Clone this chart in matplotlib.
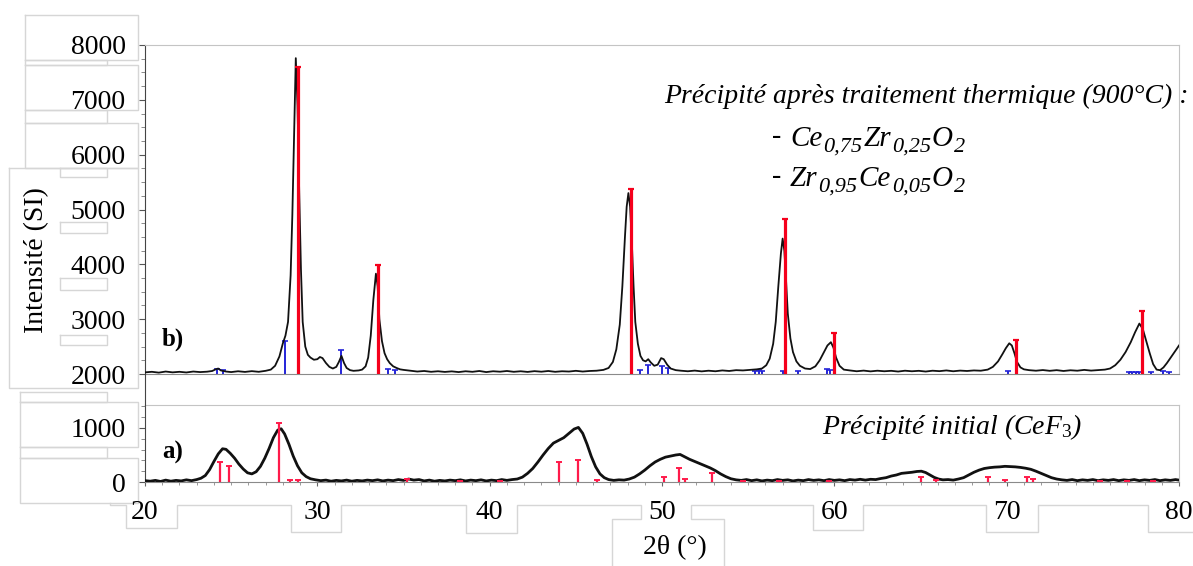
import matplotlib
matplotlib.use('Agg')
import matplotlib.pyplot as plt
from matplotlib.lines import Line2D
from matplotlib.ticker import MultipleLocator

# ============================================================================
# data
# ============================================================================

# b) precipitate after heat treatment (900 C)
two_theta_b = [20.0, 20.4, 20.8, 21.2, 21.6, 22.0, 22.4, 22.8, 23.2, 23.6, 23.9, 24.1, 24.25, 24.4, 24.7,
               25.0, 25.4, 25.8, 26.2, 26.6, 27.0, 27.3, 27.55, 27.8, 28.0, 28.15, 28.3, 28.45, 28.55, 28.65,
               28.75, 28.85, 28.95, 29.05, 29.15, 29.3, 29.45, 29.6, 29.8, 30.0, 30.15, 30.3, 30.5, 30.7,
               30.9, 31.1, 31.25, 31.4, 31.55, 31.7, 31.9, 32.1, 32.4, 32.6, 32.8, 32.95, 33.1, 33.25, 33.4,
               33.5, 33.6, 33.75, 33.9, 34.05, 34.2, 34.4, 34.6, 34.8, 35.0, 35.4, 35.8, 36.2, 36.6, 37.0,
               37.4, 37.8, 38.2, 38.6, 39.0, 39.4, 39.8, 40.2, 40.6, 41.0, 41.4, 41.8, 42.2, 42.6, 43.0,
               43.4, 43.8, 44.2, 44.6, 45.0, 45.4, 45.8, 46.2, 46.6, 46.9, 47.15, 47.35, 47.55, 47.7, 47.85,
               47.95, 48.05, 48.15, 48.25, 48.35, 48.45, 48.6, 48.75, 48.9, 49.05, 49.2, 49.35, 49.55, 49.75,
               49.95, 50.1, 50.3, 50.5, 50.8, 51.1, 51.5, 51.9, 52.3, 52.7, 53.1, 53.5, 53.9, 54.3, 54.7,
               55.1, 55.5, 55.8, 56.05, 56.25, 56.45, 56.6, 56.75, 56.9, 57.0, 57.1, 57.2, 57.3, 57.45, 57.6,
               57.8, 58.0, 58.3, 58.6, 58.9, 59.15, 59.4, 59.6, 59.8, 59.95, 60.1, 60.3, 60.55, 60.9, 61.3,
               61.7, 62.1, 62.5, 62.9, 63.3, 63.7, 64.1, 64.5, 64.9, 65.3, 65.7, 66.1, 66.5, 66.9, 67.3,
               67.7, 68.1, 68.5, 68.9, 69.2, 69.5, 69.75, 69.95, 70.15, 70.3, 70.45, 70.6, 70.8, 71.0, 71.3,
               71.7, 72.1, 72.5, 72.9, 73.3, 73.7, 74.1, 74.5, 74.9, 75.3, 75.7, 76.0, 76.3, 76.6, 76.9,
               77.2, 77.45, 77.7, 77.9, 78.1, 78.3, 78.5, 78.7, 78.9, 79.1, 79.3, 79.5, 79.7, 79.85, 80.0]
intensity_b = [2030, 2040, 2025, 2045, 2030, 2040, 2028, 2045, 2035, 2042, 2055, 2085, 2100, 2065, 2045,
               2035, 2050, 2038, 2052, 2040, 2058, 2080, 2150, 2320, 2560, 2700, 2950, 3800, 4900, 6300,
               7760, 6900, 5300, 3900, 2950, 2500, 2350, 2300, 2260, 2270, 2310, 2290, 2200, 2130,
               2100, 2130, 2220, 2330, 2200, 2110, 2070, 2058, 2065, 2080, 2140, 2300, 2700, 3350, 3830,
               3600, 3000, 2600, 2380, 2270, 2200, 2140, 2110, 2085, 2075, 2060, 2045, 2055, 2040, 2050,
               2038, 2048, 2035, 2050, 2040, 2055, 2035, 2050, 2042, 2055, 2040, 2050, 2038, 2052, 2042,
               2055, 2040, 2050, 2045, 2058, 2045, 2055, 2060, 2075, 2110, 2220, 2450, 2900, 3600, 4500,
               5050, 5300, 5050, 4400, 3600, 2950, 2550, 2330, 2250, 2230, 2270, 2210, 2150, 2170,
               2290, 2270, 2170, 2100, 2070, 2060, 2050, 2062, 2048, 2060, 2050, 2065, 2055, 2070, 2065,
               2075, 2085, 2100, 2160, 2280, 2550, 2950, 3600, 4200, 4470, 4250, 3700, 3100, 2650, 2400,
               2230, 2150, 2100, 2090, 2140, 2250, 2400, 2520, 2580, 2480, 2300, 2150, 2080, 2065, 2050,
               2062, 2048, 2060, 2050, 2058, 2045, 2060, 2050, 2058, 2045, 2060, 2052, 2065, 2050, 2062,
               2055, 2065, 2060, 2080, 2130, 2230, 2360, 2470, 2560, 2520, 2380, 2220, 2120, 2085, 2070,
               2060, 2072, 2058, 2070, 2055, 2068, 2060, 2075, 2062, 2070, 2080, 2100, 2160, 2260, 2400,
               2580, 2760, 2920, 2820, 2600, 2380, 2180, 2080, 2070, 2120, 2200, 2290, 2380, 2450, 2520]

# reference lines, Ce0,75Zr0,25O2 (red) and Zr0,95Ce0,05O2 (blue)
ce75_pos = [28.9, 33.5, 48.2, 57.15, 60.0, 70.55, 77.85]
ce75_int = [7590, 3990, 5380, 4820, 2740, 2615, 3155]
zr95_pos = [24.2, 24.5, 28.1, 31.4, 34.1, 34.5, 48.75, 49.2, 50.0, 50.35, 55.4, 55.6, 55.8,
            57.05, 57.9, 59.6, 59.75, 70.05, 77.1, 77.3, 77.5, 77.7, 78.4, 79.1, 79.4]
zr95_int = [2100, 2080, 2610, 2430, 2100, 2070, 2070, 2160, 2150, 2110, 2060, 2070, 2060,
            2050, 2060, 2090, 2080, 2050, 2040, 2040, 2040, 2040, 2040, 2050, 2040]

# a) initial precipitate (CeF3)
two_theta_a = [20.0, 20.3, 20.6, 20.9, 21.2, 21.5, 21.8, 22.1, 22.4, 22.7, 23.0, 23.25, 23.5, 23.75, 24.0,
               24.25, 24.5, 24.7, 24.95, 25.2, 25.45, 25.7, 25.95, 26.2, 26.45, 26.7, 26.95, 27.2, 27.45,
               27.7, 27.9, 28.1, 28.35, 28.6, 28.85, 29.1, 29.35, 29.6, 29.9, 30.2, 30.5, 30.8, 31.1, 31.4,
               31.7, 32.0, 32.3, 32.6, 32.9, 33.2, 33.5, 33.8, 34.1, 34.4, 34.7, 35.0, 35.3, 35.6, 35.9,
               36.2, 36.5, 36.8, 37.1, 37.4, 37.7, 38.0, 38.3, 38.6, 38.9, 39.2, 39.5, 39.8, 40.1, 40.4,
               40.7, 41.0, 41.3, 41.6, 41.9, 42.2, 42.5, 42.8, 43.1, 43.4, 43.7, 44.0, 44.3, 44.6, 44.9,
               45.15, 45.4, 45.65, 45.9, 46.15, 46.4, 46.65, 46.9, 47.2, 47.5, 47.8, 48.1, 48.4, 48.7,
               49.0, 49.3, 49.6, 49.9, 50.2, 50.5, 50.8, 51.05, 51.3, 51.6, 51.9, 52.2, 52.5, 52.8, 53.1,
               53.4, 53.7, 54.0, 54.3, 54.6, 54.9, 55.2, 55.5, 55.8, 56.1, 56.4, 56.7, 57.0, 57.3, 57.6,
               57.9, 58.2, 58.5, 58.8, 59.1, 59.4, 59.7, 60.0, 60.3, 60.6, 60.9, 61.2, 61.5, 61.8, 62.1,
               62.4, 62.7, 63.0, 63.3, 63.6, 63.9, 64.2, 64.5, 64.8, 65.05, 65.3, 65.55, 65.8, 66.05, 66.3,
               66.6, 66.9, 67.2, 67.5, 67.8, 68.1, 68.4, 68.7, 69.0, 69.3, 69.6, 69.9, 70.2, 70.5, 70.8,
               71.1, 71.4, 71.7, 72.0, 72.3, 72.6, 72.9, 73.2, 73.5, 73.8, 74.1, 74.4, 74.7, 75.0, 75.3,
               75.6, 75.9, 76.2, 76.5, 76.8, 77.1, 77.4, 77.7, 78.0, 78.3, 78.6, 78.9, 79.2, 79.5, 79.8, 80.0]
intensity_a = [25, 15, 30, 10, 35, 15, 30, 20, 40, 25, 45, 70, 120, 230, 380,
               520, 615, 605, 530, 440, 330, 240, 170, 150, 190, 290, 440, 620, 820,
               960, 985, 890, 700, 480, 300, 170, 100, 60, 40, 25, 35, 15, 30, 20,
               35, 15, 30, 20, 35, 25, 40, 20, 35, 25, 45, 30, 55, 35, 45,
               20, 35, 15, 30, 20, 35, 25, 40, 20, 35, 25, 40, 20, 35, 25,
               45, 30, 45, 55, 90, 160, 250, 370, 500, 620, 720, 770, 820, 900, 980,
               1010, 900, 700, 470, 280, 150, 80, 45, 30, 40, 35, 55, 90, 150,
               220, 300, 370, 420, 460, 480, 500, 510, 470, 420, 380, 340, 300, 260, 210,
               150, 100, 60, 40, 30, 45, 25, 40, 20, 35, 25, 45, 30, 40, 20,
               35, 25, 45, 30, 40, 25, 45, 30, 40, 25, 45, 35, 50, 35, 50,
               45, 65, 80, 110, 130, 160, 170, 180, 195, 200, 175, 130, 85, 55, 40,
               45, 35, 55, 80, 130, 180, 220, 250, 265, 275, 280, 290, 285, 280, 270,
               255, 235, 200, 160, 120, 80, 55, 40, 30, 45, 25, 40, 30, 45, 25,
               40, 30, 45, 25, 40, 30, 45, 25, 40, 30, 45, 25, 40, 30, 45, 35]

# reference lines CeF3
cef3_pos = [24.35, 24.9, 27.8, 28.4, 28.9, 35.2, 38.3, 40.6, 44.0, 45.15, 46.25, 50.1, 51.0, 51.35,
            52.9, 54.7, 56.8, 59.7, 65.0, 65.9, 68.9, 69.9, 71.2, 71.5, 75.4, 77.0, 78.5]
cef3_int = [370, 300, 1090, 30, 40, 50, 25, 25, 370, 410, 40, 90, 260, 60,
            170, 20, 20, 20, 90, 40, 90, 30, 90, 60, 20, 20, 20]

y_ticks_b = [2000, 3000, 4000, 5000, 6000, 7000, 8000]
y_ticks_a = [0, 1000]
x_ticks = [20, 30, 40, 50, 60, 70, 80]

# formula pieces: (text, is_subscript)
formula_1 = [('Ce', False), ('0,75', True), ('Zr', False), ('0,25', True), ('O', False), ('2', True)]
formula_2 = [('Zr', False), ('0,95', True), ('Ce', False), ('0,05', True), ('O', False), ('2', True)]

# ============================================================================
# figure
# ============================================================================

W, H = 1193, 566
plt.rcParams['font.family'] = ['Liberation Serif', 'DejaVu Serif']
plt.rcParams['mathtext.fontset'] = 'custom'
plt.rcParams['mathtext.rm'] = 'Liberation Serif'
plt.rcParams['mathtext.it'] = 'Liberation Serif:italic'
plt.rcParams['mathtext.default'] = 'it'

fig = plt.figure(figsize=(W / 100, H / 100), dpi=100)


def fx(x):
    return x / W


def fy(y):
    return 1 - y / H


# axes boxes in pixels: left 145, right 1179
ax_b = fig.add_axes([fx(145), fy(374), fx(1179) - fx(145), fy(45) - fy(374)])
ax_a = fig.add_axes([fx(145), fy(482), fx(1179) - fx(145), fy(405) - fy(482)])

RED = '#f5001c'
BLUE = '#2424d8'
PINK = '#ff1a4a'

# --- b)
ax_b.vlines(zr95_pos, 2000, zr95_int, color=BLUE, lw=1.4, zorder=2)
ax_b.plot(zr95_pos, zr95_int, '_', color=BLUE, ms=4, mew=1.2, zorder=2)
ax_b.plot(two_theta_b, intensity_b, color='#111111', lw=1.3, zorder=3)
ax_b.vlines(ce75_pos, 2000, ce75_int, color=RED, lw=2.3, zorder=4)
ax_b.plot(ce75_pos, ce75_int, '_', color=RED, ms=5, mew=1.6, zorder=4)
ax_b.set_xlim(20, 80)
ax_b.set_ylim(2000, 7946)
ax_b.set_yticks(y_ticks_b)
ax_b.yaxis.set_minor_locator(MultipleLocator(250))
ax_b.tick_params(axis='x', which='both', length=0, labelbottom=False)

# --- a)
ax_a.plot(two_theta_a, intensity_a, color='#111111', lw=2.0, zorder=3)
ax_a.vlines(cef3_pos, 0, cef3_int, color=PINK, lw=1.6, zorder=4)
ax_a.plot(cef3_pos, cef3_int, '_', color=PINK, ms=4, mew=1.4, zorder=4)
ax_a.set_xlim(20, 80)
ax_a.set_ylim(0, 1425)
ax_a.set_yticks(y_ticks_a)
ax_a.set_xticks(x_ticks)
ax_a.xaxis.set_minor_locator(MultipleLocator(1))
ax_a.yaxis.set_minor_locator(MultipleLocator(200))

for ax in (ax_a, ax_b):
    ax.spines['left'].set_color('#444444')
    ax.spines['top'].set_color('#c4c4c4')
    ax.spines['right'].set_color('#c4c4c4')
    ax.spines['bottom'].set_color('#8a8a8a')
    ax.tick_params(axis='y', which='major', length=4, width=0.8, color='#555555',
                   labelsize=20, pad=10)
    ax.tick_params(axis='y', which='minor', length=3, width=0.6, color='#777777')
    ax.patch.set_alpha(0)
ax_a.tick_params(axis='x', which='major', length=3, width=0.8, color='#666666',
                 labelsize=20, pad=10)
ax_a.tick_params(axis='x', which='minor', length=2, width=0.6, color='#888888')

# left spine runs through the gap between the two panels
fig.add_artist(Line2D([fx(145), fx(145)], [fy(374), fy(405)], transform=fig.transFigure,
                      color='#444444', lw=0.8))

# ============================================================================
# texts
# ============================================================================

fig.text(fx(37), fy(260), 'Intensité (SI)', rotation=90, ha='center', va='center', fontsize=20)
fig.text(fx(675), fy(548), '2θ (°)', ha='center', va='center', fontsize=20)
fig.text(fx(162), fy(339), 'b)', ha='left', va='center', fontsize=18, fontweight='bold')
fig.text(fx(162), fy(452), 'a)', ha='left', va='center', fontsize=18, fontweight='bold')

fig.text(fx(664), fy(96), 'Précipité après traitement thermique (900°C) :', ha='left', va='center',
         fontsize=20, style='italic')
fig.text(fx(822), fy(427), r'Précipité initial (Ce$F_3$)', ha='left', va='center',
         fontsize=20, style='italic')

renderer = fig.canvas.get_renderer()


def chem(x, y_base, parts, size=21, sub_size=16):
    """formula written piece by piece, subscripts lowered"""
    for txt, sub in parts:
        t = fig.text(fx(x), fy(y_base + (6 if sub else 0)), txt, ha='left', va='baseline',
                     fontsize=sub_size if sub else size, style='italic')
        x += t.get_window_extent(renderer).width + 1


fig.text(fx(772), fy(137), '-', ha='left', va='center', fontsize=20)
chem(790, 146, formula_1)
fig.text(fx(772), fy(177), '-', ha='left', va='center', fontsize=20)
chem(790, 186, formula_2)

# ============================================================================
# faint frames of the pasted pieces around the tick labels
# ============================================================================

frame_rects = [(25, 15, 138, 60), (25, 60, 107, 65), (25, 65, 138, 110), (25, 110, 107, 123),
               (25, 123, 138, 168), (9, 168, 138, 388), (60, 168, 107, 177), (60, 222, 107, 233),
               (60, 278, 107, 290), (60, 335, 107, 345), (20, 392, 107, 402), (20, 402, 138, 447),
               (20, 447, 107, 458), (20, 458, 138, 503)]
for x0, y0, x1, y1 in frame_rects:
    fig.add_artist(Line2D([fx(x0), fx(x1), fx(x1), fx(x0), fx(x0)],
                          [fy(y0), fy(y0), fy(y1), fy(y1), fy(y0)],
                          transform=fig.transFigure, color='#d6d6d6', lw=1.0, zorder=0))

outline = [(110, 503), (110, 505), (126, 505), (126, 528), (177, 528), (177, 505), (291, 505),
           (291, 532), (341, 532), (341, 505), (466, 505), (466, 533), (517, 533), (517, 505),
           (641, 505), (641, 519), (612, 519), (612, 566)]
outline2 = [(724, 566), (724, 519), (691, 519), (691, 505), (813, 505), (813, 530), (863, 530),
            (863, 505), (986, 505), (986, 532), (1038, 532), (1038, 505), (1148, 505),
            (1148, 532), (1193, 532)]
for pts in (outline, outline2):
    fig.add_artist(Line2D([fx(p[0]) for p in pts], [fy(p[1]) for p in pts],
                          transform=fig.transFigure, color='#d6d6d6', lw=1.0, zorder=0))

fig.savefig('out.png', dpi=100)
